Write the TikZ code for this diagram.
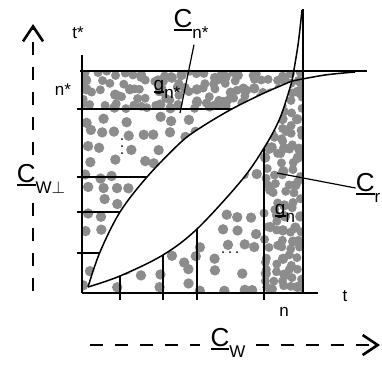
\documentclass[tikz,border=0pt]{standalone}
\usepackage{fontspec}
\setmainfont{Liberation Sans}
\usetikzlibrary{arrows.meta,positioning}

\newcommand{\ubar}[1]{\sbox0{#1}\rlap{\rule[-0.14em]{\wd0}{0.09em}}\usebox0}
\newcommand{\lowsub}[1]{\raisebox{-0.42em}{\fontsize{17pt}{17pt}\selectfont #1}}

\begin{document}
\begin{tikzpicture}[x=1pt, y=-1pt,
    boxline/.style={line width=1.3pt},
    profile/.style={line width=1.5pt, smooth, tension=0.55},
    blob/.style={fill=black!45},
    dashaxis/.style={line width=2.6pt, dash pattern=on 13pt off 12pt, -{Straight Barb[length=15pt,width=20pt]}},
    leader/.style={line width=1.2pt},
    biglabel/.style={inner sep=0pt, font=\fontsize{26pt}{26pt}\selectfont},
    smalllabel/.style={inner sep=0pt, font=\fontsize{17pt}{17pt}\selectfont}
]
\useasboundingbox (0,0) rectangle (382,364);

% Shaded field of points
\begin{scope}
  \clip (82,71) rectangle (303,293);
  \pgfmathsetseed{4}
  \foreach \i in {0,...,15} {
    \foreach \j in {0,...,15} {
      \pgfmathsetmacro{\px}{87+14*\i+4*rand}
      \pgfmathsetmacro{\py}{77+14*\j+4*rand}
      \pgfmathtruncatemacro{\keep}{rnd<0.6 ? 1 : 0}
      \ifnum\keep=1 \fill[blob] (\px,\py) circle (5.2pt); \fi
    }
  }
  % dense strip on top
  \foreach \i in {0,...,27} {
    \foreach \j in {0,...,4} {
      \pgfmathsetmacro{\px}{84+8*\i+3*rand}
      \pgfmathsetmacro{\py}{74+8*\j+3*rand}
      \pgfmathtruncatemacro{\keep}{rnd<0.7 ? 1 : 0}
      \ifnum\keep=1 \fill[blob] (\px,\py) circle (4.5pt); \fi
    }
  }
  % dense column on the right
  \foreach \i in {0,...,4} {
    \foreach \j in {0,...,22} {
      \pgfmathsetmacro{\px}{267+8*\i+3*rand}
      \pgfmathsetmacro{\py}{112+8*\j+3*rand}
      \pgfmathtruncatemacro{\keep}{rnd<0.7 ? 1 : 0}
      \ifnum\keep=1 \fill[blob] (\px,\py) circle (4.5pt); \fi
    }
  }
\end{scope}

% Rows and columns
\draw[boxline] (77,109) -- (240,109);
\draw[boxline] (77,177) -- (156,177);
\draw[boxline] (77,212) -- (128,212);
\draw[boxline] (77,253) -- (106,253);
\draw[boxline] (120,300) -- (120,268);
\draw[boxline] (163,300) -- (163,246);
\draw[boxline] (197,300) -- (197,220);
\draw[boxline] (264,300) -- (264,138);

% Empty region between the curves
\fill[white, smooth, tension=0.55]
  plot coordinates {(88,287) (100,252) (120,212) (147,177) (180,143) (200,128) (230,110) (262,94) (292,81)}
  -- plot coordinates {(292,81) (280,118) (264,148) (241,181) (197,229) (163,255) (120,276) (88,287)}
  -- cycle;

% Curves
\draw[profile] plot coordinates {(88,287) (100,252) (120,212) (147,177) (180,143) (200,128) (230,110) (262,94) (292,81)};
\draw[profile] plot coordinates {(292,81) (325,75) (355,72)};
\draw[profile] plot coordinates {(88,287) (120,276) (163,255) (197,229) (241,181) (264,148) (280,118) (292,81)};
\draw[profile] plot coordinates {(292,81) (298,45) (302,10)};

% Frame
\draw[boxline] (80,71) -- (367,71);
\draw[boxline] (82,55) -- (82,293);
\draw[boxline] (82,293) -- (318,293);
\draw[boxline] (303,9) -- (303,293);

% Ellipses
\foreach \k in {0,1,2} {
  \fill (223+7*\k,252) circle (1pt);
  \fill (122,139+7*\k) circle (1pt);
}

% Labels
\node[smalllabel] (tstar) at (78,33) {t*};
\node[smalllabel] (nstar) at (63,90) {n*};
\node[smalllabel] (tlab) at (345,296) {t};
\node[smalllabel] (nlab) at (284,312) {n};
\node[biglabel] (cnstar) at (191,24) {\ubar{C}\lowsub{n*}};
\node[smalllabel, font=\fontsize{19pt}{19pt}\selectfont] (gnstar) at (167,89) {\ubar{g}\lowsub{n*}};
\node[smalllabel, font=\fontsize{19pt}{19pt}\selectfont] (gn) at (285,213) {\ubar{g}\lowsub{n}};
\node[biglabel] (cr) at (368,188) {\ubar{C}\lowsub{r}};
\node[biglabel, inner ysep=9pt] (cwperp) at (41,179) {\ubar{C}\lowsub{W$\perp$}};
\node[biglabel, inner xsep=10pt] (cw) at (228,343) {\ubar{C}\lowsub{W}};

% Leaders
\coordinate (gnstarpt) at (180,113);
\coordinate (crpt) at (277,173);
\draw[leader] ([xshift=3pt,yshift=-6pt]cnstar.south) -- (gnstarpt);
\draw[leader] (cr.west) -- (crpt);

% Dashed axes
\coordinate (vbot) at (33,291);
\coordinate (vtop) at (33,24);
\coordinate (hleft) at (90,345);
\coordinate (hright) at (380,345);
\draw[dashaxis, -] (vbot) -- (vbot |- cwperp.south);
\draw[dashaxis] (vtop |- cwperp.north) -- (vtop);
\draw[dashaxis, -] (hleft) -- (hleft -| cw.west);
\draw[dashaxis] (hright -| cw.east) -- (hright);

\end{tikzpicture}
\end{document}
